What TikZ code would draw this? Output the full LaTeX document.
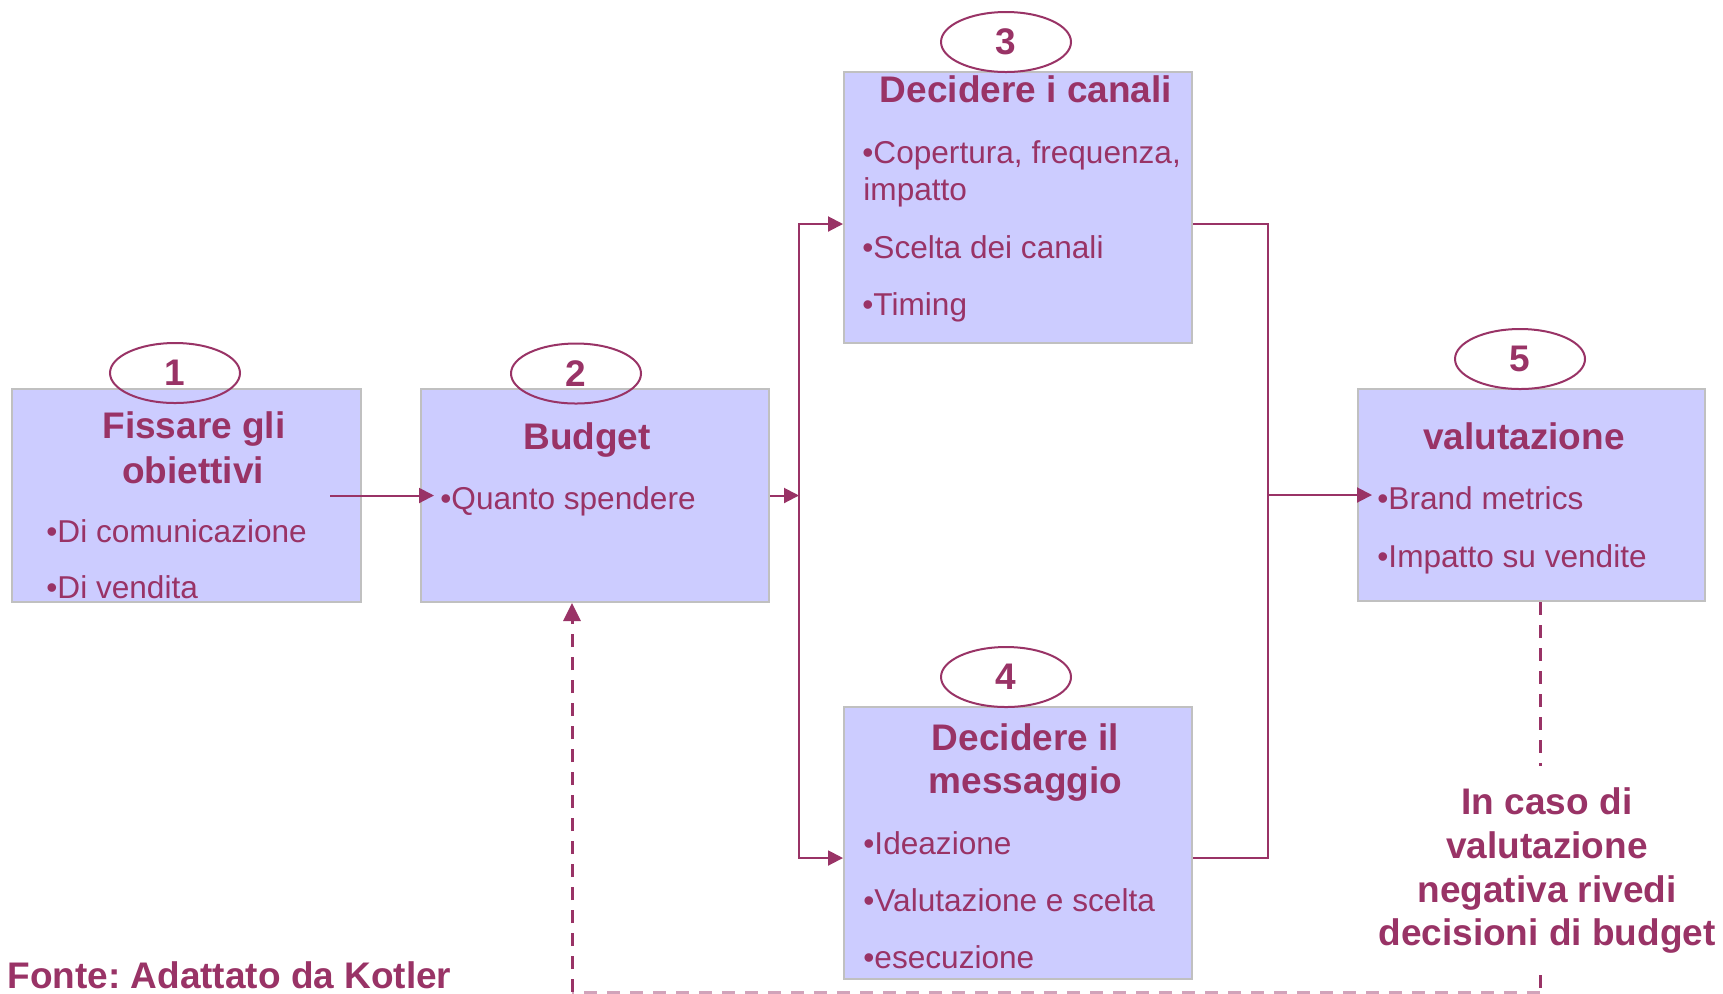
\documentclass[tikz,border=0pt]{standalone}
\usepackage{fontspec}
\setmainfont{Liberation Sans}
\usetikzlibrary{arrows.meta,shapes.geometric}

\definecolor{purp}{RGB}{153,51,102}
\definecolor{boxfill}{RGB}{204,204,255}
\definecolor{boxline}{RGB}{192,192,192}

\newcommand\hdfont{\fontsize{18.5}{22}\selectfont\bfseries}
\newcommand\bdfont{\fontsize{15.8}{19}\selectfont}

\tikzset{
  stage/.style={draw=boxline, fill=boxfill, line width=1pt, inner sep=0pt},
  num/.style={ellipse, draw=purp, line width=1pt, minimum width=65pt,
    minimum height=30pt, inner sep=0pt, text=purp, font=\hdfont},
  head/.style={anchor=base, inner sep=0pt, text=purp, font=\hdfont},
  item/.style={anchor=base west, inner sep=0pt, text=purp, font=\bdfont},
  link/.style={draw=purp, line width=1pt},
  arr/.style={-{Triangle[length=7.5pt,width=7.5pt]}},
  dsh/.style={draw=purp, line width=1.5pt, dash pattern=on 6.5pt off 5pt},
  darr/.style={-{Triangle[length=9pt,width=8.5pt]}}
}

\begin{document}
\frenchspacing
\begin{tikzpicture}[x=0.5pt, y=-0.5pt]
  \useasboundingbox (0,0) rectangle (1723,993);
  \fill[white] (0,0) rectangle (1723,993);

  % stage boxes
  \node[stage, minimum width=174.5pt, minimum height=106.5pt] (b1) at (186.5,495.5) {};
  \node[stage, minimum width=174pt, minimum height=106.5pt] (b2) at (595,495.5) {};
  \node[stage, minimum width=174pt, minimum height=135.5pt] (b3) at (1018,207.5) {};
  \node[stage, minimum width=174pt, minimum height=136pt] (b4) at (1018,843) {};
  \node[stage, minimum width=173.5pt, minimum height=106pt] (b5) at (1531.5,495) {};

  % step numbers
  \node[num] (n1) at (175,373) {1};
  \node[num] (n2) at (576,373.5) {2};
  \node[num] (n3) at (1006,42) {3};
  \node[num] (n4) at (1006,677) {4};
  \node[num] (n5) at (1520,359) {5};

  % junction points
  \coordinate (j1) at (799,495.5);
  \coordinate (j2) at (1268,495);
  \coordinate (c1) at (1540,766);
  \coordinate (c2) at (1540,975);
  \coordinate (c3) at (1540,992);
  \coordinate (c4) at (572,992);

  % solid connectors
  \draw[link, arr] ([xshift=-16pt]b1.east) -- ([xshift=7pt]b2.west);
  \draw[link, arr] (b2.east) -- (j1);
  \draw[link, arr] (j1) |- ([yshift=-8.25pt]b3.west);
  \draw[link, arr] (j1) |- ([yshift=-7.5pt]b4.west);
  \draw[link] ([yshift=-8.25pt]b3.east) -| (j2) |- ([yshift=-7.5pt]b4.east);
  \draw[link, arr] (j2) -- ([xshift=7.5pt]b5.west);

  % feedback loop
  \draw[dsh] ([xshift=4.25pt]b5.south) -- (c1);
  \draw[dsh] (c2) -- (c3);
  \draw[dsh, draw=purp!45] (c3) -- (c4);
  \draw[dsh, darr] (c4) -- ([xshift=-11.5pt]b2.south);

  % box 1
  \node[head] (h1a) at (194,438) {Fissare gli};
  \node[head] (h1b) at (193,483) {obiettivi};
  \node[item] (i1a) at (46,542) {•Di comunicazione};
  \node[item] (i1b) at (46,598) {•Di vendita};

  % box 2
  \node[head] (h2) at (587,449) {Budget};
  \node[item] (i2a) at (440,509) {•Quanto spendere};

  % box 3
  \node[head] (h3) at (1026,102) {Decidere i canali};
  \node[item] (i3a) at (862,163) {•Copertura, frequenza,};
  \node[item] (i3b) at (863,200) {impatto};
  \node[item] (i3c) at (862,258) {•Scelta dei canali};
  \node[item] (i3d) at (862,315) {•Timing};

  % box 4
  \node[head] (h4a) at (1025.5,750) {Decidere il};
  \node[head] (h4b) at (1025.5,793) {messaggio};
  \node[item] (i4a) at (863,854) {•Ideazione};
  \node[item] (i4b) at (863,911) {•Valutazione e scelta};
  \node[item] (i4c) at (863,968) {•esecuzione};

  % box 5
  \node[head] (h5) at (1524,449) {valutazione};
  \node[item] (i5a) at (1377,509) {•Brand metrics};
  \node[item] (i5b) at (1377,567) {•Impatto su vendite};

  % feedback note
  \node[head] (m1) at (1547,814) {In caso di};
  \node[head] (m2) at (1547,858) {valutazione};
  \node[head] (m3) at (1547,902) {negativa rivedi};
  \node[head] (m4) at (1547,945) {decisioni di budget};

  % source
  \node[anchor=base west, inner sep=0pt, text=purp, font=\hdfont] (src) at (7,988) {Fonte: Adattato da Kotler};
\end{tikzpicture}
\end{document}
